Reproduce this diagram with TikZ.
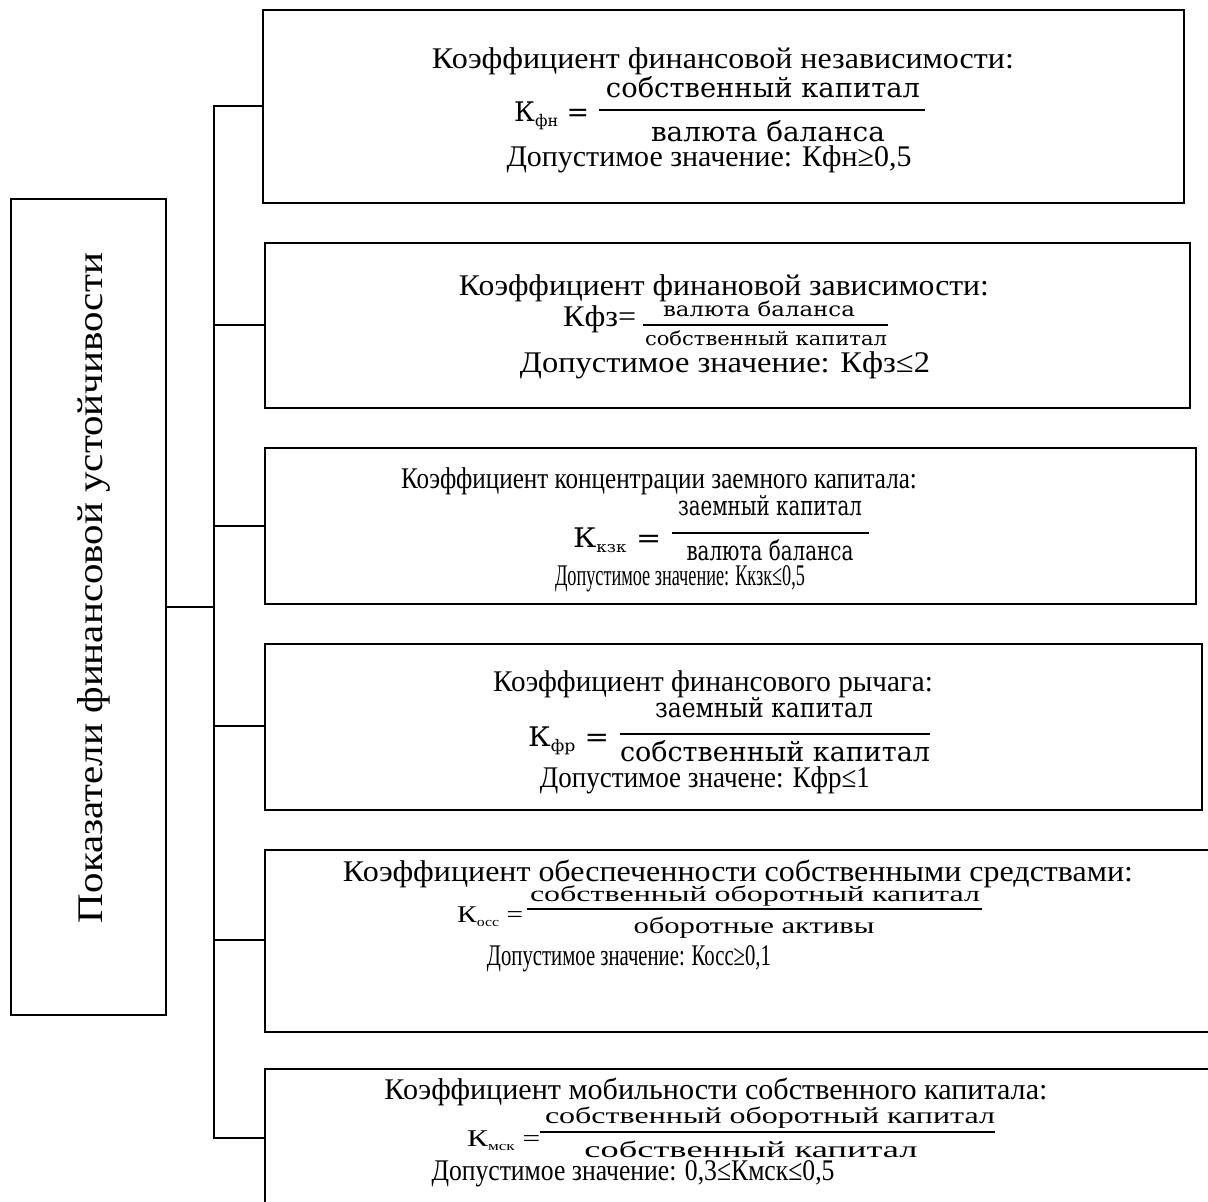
\documentclass[tikz,border=0pt]{standalone}
\usepackage{fontspec}
\usepackage{graphicx}
\setmainfont{Liberation Serif}
\newfontfamily\mf{DejaVu Serif}
\newcommand{\fw}[2]{\resizebox{#1pt}{\height}{#2}}
\newcommand{\sz}[1]{\fontsize{#1}{#1}\selectfont}
\tikzset{
  box/.style={draw, line width=2.6pt, rectangle, inner sep=0pt},
  conn/.style={line width=2.6pt},
  bar/.style={line width=1.7pt},
  tx/.style={anchor=base, inner sep=0pt, font=\sz{30}},
  txl/.style={anchor=base west, inner sep=0pt, font=\sz{30}},
}
\begin{document}
\begin{tikzpicture}[x=1pt,y=-1pt]
\useasboundingbox (0,0) rectangle (1208,1202);
\clip (0,0) rectangle (1208,1202);
% left box
\node[box, minimum width=155pt, minimum height=816pt] (L) at (88.5,607) {};
\node[inner sep=0pt, rotate=90, anchor=base, font=\sz{36}] (Lt) at (102,588) {\fw{670}{Показатели финансовой устойчивости}};
% right boxes
\node[box, minimum width=921pt, minimum height=193pt] (B1) at (723.5,106.5) {};
\node[box, minimum width=925pt, minimum height=165pt] (B2) at (727.5,325.5) {};
\node[box, minimum width=931pt, minimum height=156pt] (B3) at (730.5,526) {};
\node[box, minimum width=937pt, minimum height=166pt] (B4) at (733.5,727) {};
\node[box, minimum width=960pt, minimum height=182pt] (B5) at (745,941) {};
\node[box, minimum width=960pt, minimum height=160pt] (B6) at (745,1149) {};
% connectors
\coordinate (J0) at (214,607);
\coordinate (J1) at (214,106);
\coordinate (J2) at (214,325);
\coordinate (J3) at (214,526);
\coordinate (J4) at (214,726);
\coordinate (J5) at (214,940);
\coordinate (J6) at (214,1138);
\draw[conn] (L.east |- J0) -- (J0);
\draw[conn] (J1 -| B1.west) -- (J1) -- (J6) -- (J6 -| B6.west);
\draw[conn] (J2) -- (J2 -| B2.west);
\draw[conn] (J3) -- (J3 -| B3.west);
\draw[conn] (J4) -- (J4 -| B4.west);
\draw[conn] (J5) -- (J5 -| B5.west);
% ---------- box 1
\node[tx] (t1) at (723,68) {\fw{582}{Коэффициент финансовой независимости:}};
\node[txl, font=\mf\sz{27}] (k1) at (514,121) {\fw{75}{К\raisebox{-5pt}{\sz{16}фн} =}};
\node[tx, font=\mf\sz{27}] (n1) at (763,97) {\fw{314}{собственный капитал}};
\node[tx, font=\mf\sz{27}] (d1) at (768,141) {\fw{234}{валюта баланса}};
\coordinate (a1) at (599,110); \coordinate (b1) at (925,110);
\draw[bar] (a1) -- (b1);
\node[tx] (v1) at (709,166) {\fw{405}{Допустимое значение: Кфн≥0,5}};
% ---------- box 2
\node[tx] (t2) at (724,295) {\fw{530}{Коэффициент финановой зависимости:}};
\node[txl] (k2) at (563,326) {\fw{73}{Кфз=}};
\node[tx, font=\mf\sz{20}] (n2) at (759,316) {\fw{192}{валюта баланса}};
\node[tx, font=\mf\sz{19}] (d2) at (766,345) {\fw{242}{собственный капитал}};
\coordinate (a2) at (643,325); \coordinate (b2) at (888,325);
\draw[bar] (a2) -- (b2);
\node[tx] (v2) at (725,372) {\fw{410}{Допустимое значение: Кфз≤2}};
% ---------- box 3
\node[tx] (t3) at (659,488) {\fw{516}{Коэффициент концентрации заемного капитала:}};
\node[txl, font=\mf\sz{27}] (k3) at (573,547) {\fw{88}{К\raisebox{-5pt}{\sz{15}кзк} =}};
\node[tx, font=\mf\sz{27}] (n3) at (770,515) {\fw{184}{заемный капитал}};
\node[tx, font=\mf\sz{27}] (d3) at (770,560) {\fw{167}{валюта баланса}};
\coordinate (a3) at (672,533); \coordinate (b3) at (869,533);
\draw[bar] (a3) -- (b3);
\node[tx] (v3) at (680,585) {\fw{250}{Допустимое значение: Ккзк≤0,5}};
% ---------- box 4
\node[tx] (t4) at (713,691) {\fw{440}{Коэффициент финансового рычага:}};
\node[txl, font=\mf\sz{27}] (k4) at (528,746) {\fw{81}{К\raisebox{-5pt}{\sz{16}фр} =}};
\node[tx, font=\mf\sz{27}] (n4) at (764,717) {\fw{218}{заемный капитал}};
\node[tx, font=\mf\sz{27}] (d4) at (775,761) {\fw{310}{собственный капитал}};
\coordinate (a4) at (620,734); \coordinate (b4) at (930,734);
\draw[bar] (a4) -- (b4);
\node[tx] (v4) at (705,787) {\fw{330}{Допустимое значене: Кфр≤1}};
% ---------- box 5
\node[tx] (t5) at (738,881) {\fw{790}{Коэффициент обеспеченности собственными средствами:}};
\node[txl, font=\sz{24}] (k5) at (457,922) {\fw{66}{К\raisebox{-4pt}{\sz{13}осс} =}};
\node[tx, font=\sz{22}] (n5) at (755,901) {\fw{450}{собственный оборотный капитал}};
\node[tx, font=\sz{23}] (d5) at (754,933) {\fw{241}{оборотные активы}};
\coordinate (a5) at (527,909); \coordinate (b5) at (982,909);
\draw[bar] (a5) -- (b5);
\node[tx] (v5) at (629,965) {\fw{284}{Допустимое значение: Косс≥0,1}};
% ---------- box 6
\node[tx] (t6) at (716,1099) {\fw{663}{Коэффициент мобильности собственного капитала:}};
\node[txl, font=\sz{24}] (k6) at (467,1146) {\fw{73}{К\raisebox{-4pt}{\sz{13}мск} =}};
\node[tx, font=\sz{23}] (n6) at (770,1123) {\fw{450}{собственный оборотный капитал}};
\node[tx, font=\sz{23}] (d6) at (751,1157) {\fw{333}{собственный капитал}};
\coordinate (a6) at (540,1132); \coordinate (b6) at (995,1132);
\draw[bar] (a6) -- (b6);
\node[tx] (v6) at (633,1180) {\fw{403}{Допустимое значение: 0,3≤Кмск≤0,5}};
\end{tikzpicture}
\end{document}
